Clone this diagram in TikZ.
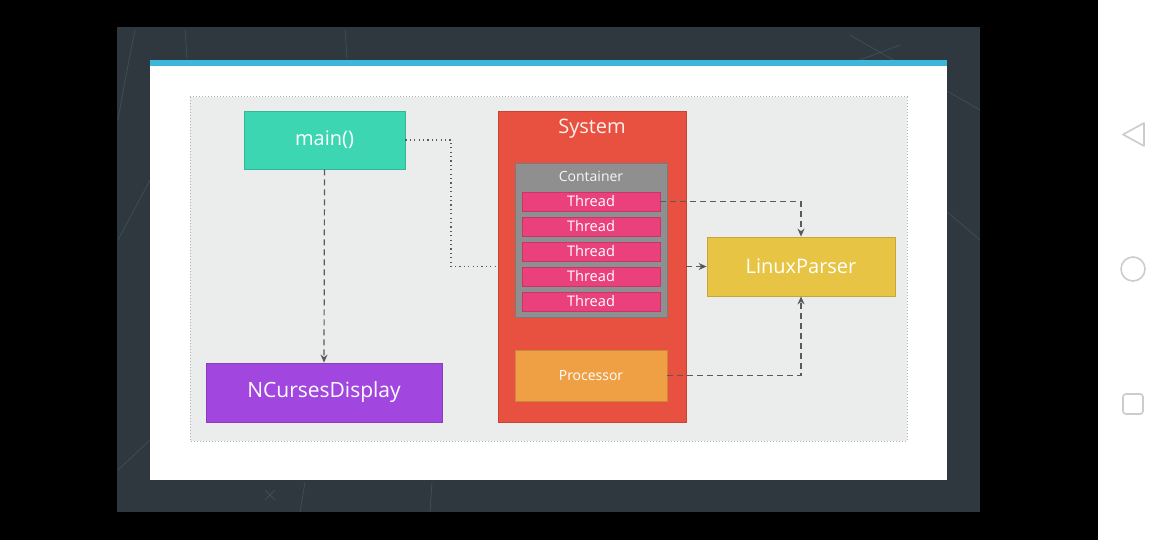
\documentclass[tikz,border=0pt]{standalone}
\usepackage{fontspec}
\setmainfont{Open Sans}
\usetikzlibrary{arrows.meta}
\definecolor{slide}{HTML}{2E383E}
\definecolor{slideline}{HTML}{3F5A60}
\definecolor{cardblue}{HTML}{3DB6D9}
\definecolor{area}{HTML}{EBECEC}
\definecolor{teal}{HTML}{3DD6B3}
\definecolor{sysred}{HTML}{E8503F}
\definecolor{contgray}{HTML}{8F8F8F}
\definecolor{thread}{HTML}{EA407C}
\definecolor{proc}{HTML}{F0A044}
\definecolor{lpy}{HTML}{E8C444}
\definecolor{purp}{HTML}{A246E0}
\definecolor{conn}{HTML}{5A5A5A}
\definecolor{navgray}{HTML}{CCCCCC}
\tikzset{
  box/.style={draw=#1!85!black, line width=0.4pt, fill=#1, text=white, inner sep=0pt},
  dashconn/.style={draw=conn, line width=0.6pt, dash pattern=on 3pt off 2pt, -{Stealth[length=4pt,width=3.5pt]}},
  dotconn/.style={draw=conn, line width=0.7pt, dash pattern=on 0.6pt off 1.6pt},
  navicon/.style={draw=navgray, line width=0.8pt},
}
\begin{document}
\begin{tikzpicture}[x=0.5pt,y=-0.5pt]
\useasboundingbox (0,0) rectangle (1170,540);
% phone frame
\fill[black] (0,0) rectangle (1098,540);
\fill[white] (1098,0) rectangle (1170,540);
% slide background
\fill[slide] (117,27) rectangle (980,512);
\begin{scope}[draw=slideline, line width=0.4pt, opacity=0.7]
\clip (117,27) rectangle (980,512);
\draw (135,30) .. controls (125,80) .. (118,120);
\draw (185,30) -- (187,58);
\draw (345,30) -- (347,58);
\draw (850,35) -- (980,110);
\draw (860,60) -- (900,45);
\draw (945,210) -- (980,240);
\draw (265,490) -- (275,500);
\draw (275,490) -- (265,500);
\draw (300,512) -- (305,482);
\draw (430,512) -- (432,482);
\draw (118,240) -- (150,180);
\draw (118,470) -- (150,440);
\end{scope}
% card
\fill[white] (150,60) rectangle (947,480);
\fill[cardblue] (150,60) rectangle (947,66);
% gray area
\fill[area] (190,97) rectangle (907,441);
\draw[gray!60, line width=0.5pt, dash pattern=on 0.5pt off 1pt] (190,97) rectangle (907,441);

% nodes
\node[box=teal, minimum width=80.5pt, minimum height=29pt, font=\fontsize{10}{12}\selectfont] (main) at (324.5,140) {main()};
\node[box=purp, minimum width=118pt, minimum height=29.5pt, font=\fontsize{10.5}{12}\selectfont] (nc) at (324,392.5) {NCursesDisplay};
\node[box=sysred, minimum width=94pt, minimum height=155.5pt] (sys) at (592,266.5) {};
\node[text=white!92!sysred, font=\fontsize{10}{12}\selectfont] (systitle) at (592,129) {System};
\node[box=contgray, minimum width=76pt, minimum height=77pt] (cont) at (591,240) {};
\node[text=white!92!contgray, font=\fontsize{7}{8}\selectfont] (conttitle) at (591,176) {Container};
\foreach \i/\yy in {1/201.5,2/226.5,3/251.5,4/276.5,5/301.5}{
  \node[box=thread, minimum width=69pt, minimum height=9.5pt, font=\fontsize{7.3}{8}\selectfont] (t\i) at (591,\yy) {Thread};
}
\node[box=proc, minimum width=76pt, minimum height=25.5pt, font=\fontsize{7}{8}\selectfont] (proc) at (591,375.5) {Processor};
\node[box=lpy, minimum width=94pt, minimum height=29.5pt, font=\fontsize{10}{12}\selectfont] (lp) at (801,266.5) {LinuxParser};

% connectors
\coordinate (mbend) at (451,140);
\draw[dotconn] (main.east) -- (mbend) |- (sys.west);
\draw[dashconn] (main.south) -- (nc.north);
\draw[dashconn] (t1.east) -| (lp.north);
\draw[dashconn] (sys.east) -- (lp.west);
\draw[dashconn] (proc.east) -| (lp.south);

% nav bar icons
\draw[navicon, line join=round] (1144,123) -- (1144,146) -- (1123,134.5) -- cycle;
\draw[navicon] (1133,269) circle (12);
\draw[navicon, rounded corners=1.5pt] (1123,394) rectangle (1143,414);
\end{tikzpicture}
\end{document}
